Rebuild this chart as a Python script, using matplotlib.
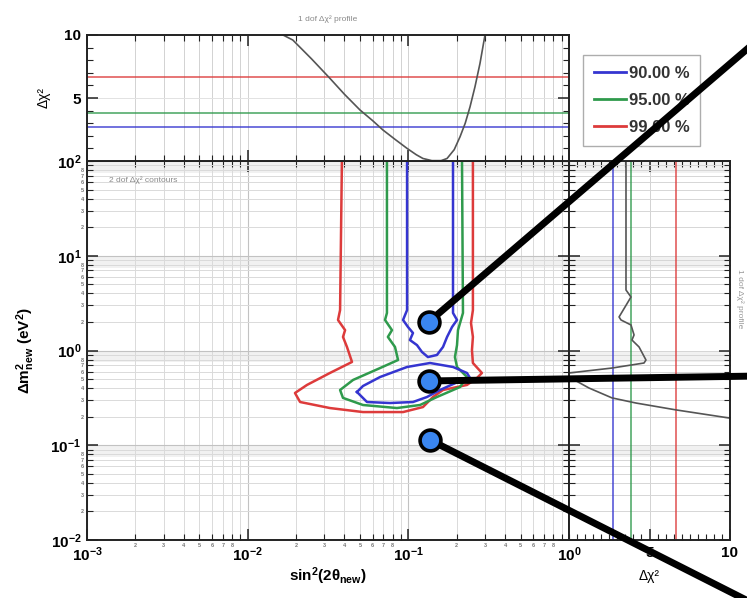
import matplotlib
matplotlib.use("Agg")
import matplotlib.pyplot as plt
from matplotlib.lines import Line2D
from matplotlib.patches import ConnectionPatch
from matplotlib.ticker import FixedLocator, FixedFormatter, MultipleLocator, NullFormatter

plt.rcParams['font.family'] = ['Liberation Sans', 'DejaVu Sans']
plt.rcParams['font.weight'] = 'bold'
plt.rcParams['mathtext.fontset'] = 'custom'
plt.rcParams['mathtext.rm'] = 'Liberation Sans:bold'
plt.rcParams['mathtext.bf'] = 'Liberation Sans:bold'
plt.rcParams['mathtext.it'] = 'Liberation Sans:bold:italic'
plt.rcParams['mathtext.default'] = 'bf'

# confidence levels (1 dof delta chi2)
levels = [2.71, 3.84, 6.63]
level_names = ["90.00 %", "95.00 %", "99.00 %"]
level_cols = ["#3535d0", "#2f9a4c", "#dd3b3b"]

# 2 dof contours: (sin^2 2theta, dm^2)
red_x = [0.0386, 0.0376, 0.0365, 0.0404, 0.0392, 0.0415, 0.0446, 0.0325, 0.0234, 0.0197,
         0.0212, 0.0325, 0.0522, 0.0927, 0.1233, 0.1424, 0.1644, 0.2317, 0.2675, 0.2871,
         0.2523, 0.2489, 0.2523, 0.2455, 0.2523, 0.2523]
red_y = [100, 2.67, 2.10, 1.64, 1.39, 1.09, 0.757, 0.579, 0.433, 0.356,
         0.286, 0.247, 0.224, 0.224, 0.253, 0.323, 0.383, 0.433, 0.513, 0.579,
         0.738, 1.01, 1.39, 1.95, 2.67, 100]

green_x = [0.0736, 0.0736, 0.0716, 0.0791, 0.0746, 0.0826, 0.0863, 0.0667, 0.0453, 0.0376,
           0.0392, 0.0522, 0.0849, 0.1183, 0.1507, 0.2099, 0.2317, 0.2009, 0.1950, 0.2009,
           0.2037, 0.2188, 0.2158]
green_y = [100, 2.49, 2.10, 1.64, 1.39, 1.09, 0.794, 0.653, 0.489, 0.383,
           0.316, 0.266, 0.247, 0.266, 0.323, 0.412, 0.525, 0.670, 0.853, 1.14,
           1.64, 2.49, 100]

blue_top_x = [0.0982, 0.0982, 0.0927, 0.0995, 0.1069, 0.1023, 0.1132, 0.1216, 0.1324, 0.1507,
              0.1644, 0.1742, 0.1871, 0.2009, 0.1897, 0.1897]
blue_top_y = [100, 2.67, 2.10, 1.77, 1.53, 1.29, 1.14, 0.964, 0.853, 0.897,
              1.09, 1.39, 1.77, 2.10, 2.49, 100]

blue_low_x = [0.0479, 0.0522, 0.0667, 0.0982, 0.1365, 0.1897, 0.2317, 0.2421, 0.2099, 0.1574,
              0.1306, 0.1069, 0.0769, 0.0553, 0.0479]
blue_low_y = [0.365, 0.422, 0.525, 0.670, 0.738, 0.670, 0.579, 0.513, 0.477, 0.383,
              0.323, 0.286, 0.279, 0.286, 0.365]

# 1 dof profile vs sin^2 2theta
prof_x = [0.0166, 0.0191, 0.0250, 0.0325, 0.0400, 0.0500, 0.0600, 0.0695, 0.0830, 0.0982,
          0.1120, 0.1233, 0.1400, 0.1600, 0.1742, 0.1930, 0.2099, 0.2260, 0.2421, 0.2600,
          0.2793, 0.300]
prof_chi = [10.0, 9.6, 8.1, 6.56, 5.3, 4.05, 3.2, 2.46, 1.7, 1.0,
            0.5, 0.2, 0.03, 0.03, 0.2, 0.9, 1.93, 3.0, 4.3, 5.9,
            7.75, 10.0]

# 1 dof profile vs dm^2
side_chi = [3.54, 3.54, 3.85, 3.11, 3.23, 3.85, 4.04, 3.91, 4.35, 4.78, 4.66, 2.67, 0.0,
            0.0, 1.24, 2.67, 4.16, 6.65, 9.94]
side_dm = [100, 4.35, 3.67, 2.26, 2.10, 1.86, 1.46, 1.29, 1.09, 0.794, 0.738, 0.653, 0.579,
           0.525, 0.402, 0.316, 0.279, 0.236, 0.194]

# highlighted points
dot_x = [0.134, 0.134, 0.136]
dot_y = [2.0, 0.477, 0.114]

W, H = 747, 598
fig = plt.figure(figsize=(W / 100, H / 100), dpi=100)
ax = fig.add_axes([87 / W, 58 / H, 482 / W, 379 / H])
ax_top = fig.add_axes([87 / W, 437 / H, 482 / W, 126 / H])
ax_r = fig.add_axes([569 / W, 58 / H, 161 / W, 379 / H])


def style(a):
    for s in a.spines.values():
        s.set_linewidth(1.4)
        s.set_color('#222222')
    a.tick_params(which='both', direction='in', top=True, right=True, color='#222222')
    a.tick_params(which='major', length=8, width=1.1, labelsize=11, pad=4)
    a.tick_params(which='minor', length=4, width=0.8)
    a.set_axisbelow(True)


decades = [1e-3, 1e-2, 1e-1, 1.0]
dm_decades = [1e-2, 1e-1, 1.0, 10.0, 100.0]
minor_x = [m * d for d in decades[:-1] for m in range(2, 10)]
minor_y = [m * d for d in dm_decades[:-1] for m in range(2, 10)]
minor_lab = [str(m) if m < 9 else '' for d in decades[:-1] for m in range(2, 10)]
minor_lab_y = [str(m) if m < 9 else '' for d in dm_decades[:-1] for m in range(2, 10)]

# ---- main panel
ax.set_xscale('log')
ax.set_yscale('log')
ax.set_xlim(1e-3, 1)
ax.set_ylim(1e-2, 1e2)
style(ax)
ax.xaxis.set_major_locator(FixedLocator(decades))
ax.xaxis.set_major_formatter(FixedFormatter([r'$10^{-3}$', r'$10^{-2}$', r'$10^{-1}$', r'$10^{0}$']))
ax.xaxis.set_minor_locator(FixedLocator(minor_x))
ax.xaxis.set_minor_formatter(FixedFormatter(minor_lab))
ax.yaxis.set_major_locator(FixedLocator(dm_decades))
ax.yaxis.set_major_formatter(FixedFormatter([r'$10^{-2}$', r'$10^{-1}$', r'$10^{0}$', r'$10^{1}$', r'$10^{2}$']))
ax.yaxis.set_minor_locator(FixedLocator(minor_y))
ax.yaxis.set_minor_formatter(FixedFormatter(minor_lab_y))
ax.tick_params(which='minor', labelsize=4, labelcolor='#777777', pad=2)
ax.grid(which='major', color='#c2c2c2', lw=0.8)
ax.grid(which='minor', color='#dadada', lw=0.7)
for d in dm_decades[1:]:
    ax.axhspan(0.75 * d, d, color='#f1f1f1', lw=0, zorder=0)

ax.plot(red_x, red_y, color=level_cols[2], lw=1.8)
ax.plot(green_x, green_y, color=level_cols[1], lw=1.8)
ax.plot(blue_top_x, blue_top_y, color=level_cols[0], lw=1.8)
ax.plot(blue_low_x, blue_low_y, color=level_cols[0], lw=1.8)
ax.text(0.045, 0.945, '2 dof Δχ² contours', transform=ax.transAxes, fontsize=6,
        color='#8a8a8a', fontweight='normal')
ax.set_xlabel(r'$sin^{2}(2\theta_{new})$', fontsize=11, labelpad=1)
ax.set_ylabel(r'$\Delta m^{2}_{new}\ (eV^{2})$', fontsize=11, labelpad=10)

# ---- top panel
ax_top.set_xscale('log')
ax_top.set_xlim(1e-3, 1)
ax_top.set_ylim(0, 10)
style(ax_top)
ax_top.xaxis.set_major_locator(FixedLocator(decades))
ax_top.xaxis.set_minor_locator(FixedLocator(minor_x))
ax_top.xaxis.set_major_formatter(NullFormatter())
ax_top.xaxis.set_minor_formatter(NullFormatter())
ax_top.yaxis.set_major_locator(FixedLocator([5, 10]))
ax_top.yaxis.set_minor_locator(MultipleLocator(1))
ax_top.grid(which='both', axis='x', color='#d2d2d2', lw=0.7)
ax_top.grid(which='major', axis='y', color='#e2e2e2', lw=0.7)
for lv, c in zip(levels, level_cols):
    ax_top.axhline(lv, color=c, lw=1.4, alpha=0.7)
ax_top.plot(prof_x, prof_chi, color='#555555', lw=1.2)
ax_top.set_ylabel('Δχ²', fontsize=10, labelpad=10)
ax_top.set_title('1 dof Δχ² profile', fontsize=6, color='#8a8a8a', fontweight='normal', pad=10)

# ---- right panel
ax_r.set_yscale('log')
ax_r.set_xlim(0, 10)
ax_r.set_ylim(1e-2, 1e2)
style(ax_r)
ax_r.xaxis.set_major_locator(FixedLocator([5, 10]))
ax_r.xaxis.set_minor_locator(MultipleLocator(0.5))
ax_r.yaxis.set_major_locator(FixedLocator(dm_decades))
ax_r.yaxis.set_minor_locator(FixedLocator(minor_y))
ax_r.yaxis.set_major_formatter(NullFormatter())
ax_r.yaxis.set_minor_formatter(NullFormatter())
ax_r.grid(which='major', axis='x', color='#d2d2d2', lw=0.7)
ax_r.grid(which='both', axis='y', color='#d6d6d6', lw=0.7)
for d in dm_decades[1:]:
    ax_r.axhspan(0.75 * d, d, color='#f1f1f1', lw=0, zorder=0)
for lv, c in zip(levels, level_cols):
    ax_r.axvline(lv, color=c, lw=1.4, alpha=0.7)
ax_r.plot(side_chi, side_dm, color='#555555', lw=1.2)
ax_r.set_xlabel('Δχ²', fontsize=10, labelpad=7)
fig.text(740 / W, 0.50, '1 dof Δχ² profile', rotation=270, fontsize=6, color='#999999',
         fontweight='normal', ha='center', va='center')

# legend
handles = [Line2D([], [], color=c, lw=2) for c in level_cols]
leg = fig.legend(handles, level_names, loc='upper left', bbox_to_anchor=(583 / W, 1 - 55 / H),
                 fontsize=12, frameon=True, fancybox=False, edgecolor='#999999',
                 handlelength=1.9, handletextpad=0.2, labelspacing=0.72, borderpad=0.65,
                 borderaxespad=0)
for t in leg.get_texts():
    t.set_color('#333333')

# pointer lines and dots
ends = [(760 / W, 1 - 38 / H), (760 / W, 1 - 376 / H), (760 / W, 1 - 607 / H)]
for x, y, e in zip(dot_x, dot_y, ends):
    con = ConnectionPatch(xyA=(x, y), coordsA=ax.transData, xyB=e, coordsB=fig.transFigure,
                          color='black', lw=5, zorder=20, clip_on=False)
    fig.add_artist(con)
    fig.add_artist(Line2D([x], [y], transform=ax.transData, marker='o', ms=15,
                          mfc='#3a86f0', mec='black', mew=2.6, ls='none', zorder=21))

fig.savefig('out.png', dpi=100)
